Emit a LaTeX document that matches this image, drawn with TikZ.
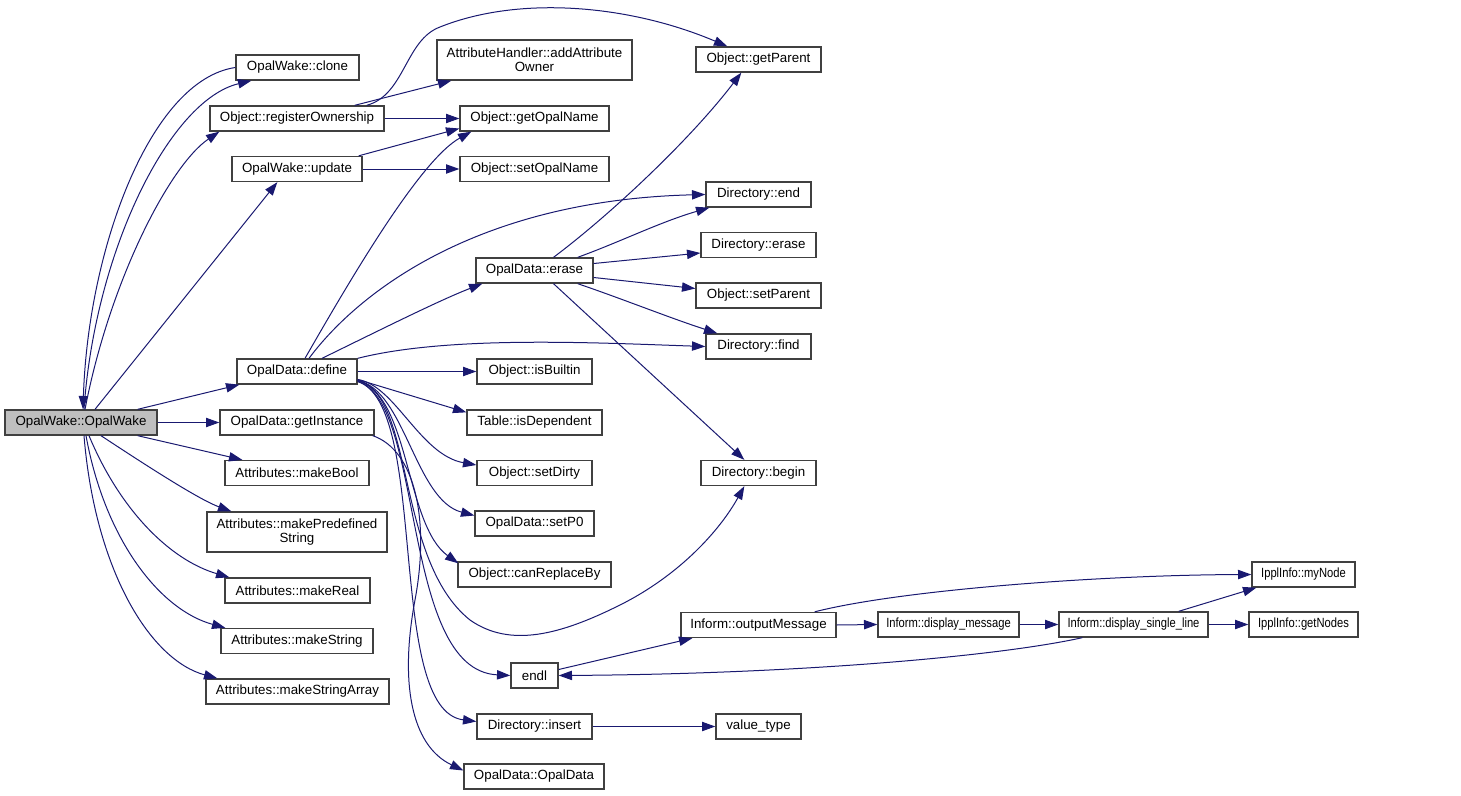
\documentclass[tikz,border=0pt]{standalone}
\usepackage{fontspec}
\setmainfont{Liberation Sans}
\usetikzlibrary{arrows.meta,calc}

\definecolor{edgeblue}{HTML}{191970}
\definecolor{boxgray}{HTML}{BFBFBF}

\tikzset{
  fn/.style={draw=black!75, fill=white, line width=1pt, inner sep=0pt,
    minimum height=25*0.75pt, font=\fontsize{10}{10.5}\selectfont, align=center},
  fntwo/.style={fn, minimum height=40*0.75pt},
  w/.style={minimum width=#1*0.75pt},
  call/.style={draw=edgeblue, line width=0.75pt,
    -{Triangle[length=10pt,width=7pt]}},
}
\newcommand{\narrow}[1]{\scalebox{0.84}[1]{#1}}

\begin{document}
\begin{tikzpicture}[x=0.75pt,y=-0.75pt]
   \useasboundingbox (0,0) rectangle (1461,796);
   \def\Xa{81}
   \def\Xb{297}
   \def\Xc{534.5}
   \def\Xd{758.5}

   % root
   \node[fn, w=152, fill=boxgray] (ow) at (\Xa,422.5) {OpalWake::OpalWake};
   % first level
   \node[fn, w=123] (clone) at (297.5,67.5) {OpalWake::clone};
   \node[fn, w=174] (ro) at (\Xb,118.5) {Object::registerOwnership};
   \node[fn, w=130] (up) at (\Xb,169) {OpalWake::update};
   \node[fn, w=120] (de) at (\Xb,371.5) {OpalData::define};
   \node[fn, w=154] (gi) at (\Xb,422.5) {OpalData::getInstance};
   \node[fn, w=144] (mb) at (\Xb,473) {Attributes::makeBool};
   \node[fntwo, w=180] (mps) at (\Xb,532) {Attributes::makePredefined\\String};
   \node[fn, w=145] (mr) at (297.5,590.5) {Attributes::makeReal};
   \node[fn, w=152] (ms) at (\Xb,641) {Attributes::makeString};
   \node[fn, w=183] (msa) at (297.5,691.5) {Attributes::makeStringArray};
   % second level
   \node[fntwo, w=195] (aao) at (\Xc,60) {AttributeHandler::addAttribute\\Owner};
   \node[fn, w=149] (gon) at (\Xc,118.5) {Object::getOpalName};
   \node[fn, w=149] (son) at (\Xc,169) {Object::setOpalName};
   \node[fn, w=117] (er) at (\Xc,270.5) {OpalData::erase};
   \node[fn, w=115] (ib) at (\Xc,371.5) {Object::isBuiltin};
   \node[fn, w=135] (tid) at (\Xc,422.5) {Table::isDependent};
   \node[fn, w=115] (sd) at (\Xc,473) {Object::setDirty};
   \node[fn, w=119] (sp0) at (\Xc,523.5) {OpalData::setP0};
   \node[fn, w=153] (crb) at (\Xc,574.5) {Object::canReplaceBy};
   \node[fn, w=47] (endl) at (\Xc,675.5) {endl};
   \node[fn, w=115] (ins) at (\Xc,726.5) {Directory::insert};
   \node[fn, w=140] (odc) at (534,776.5) {OpalData::OpalData};
   % third level
   \node[fn, w=125] (gp) at (\Xd,59.5) {Object::getParent};
   \node[fn, w=105] (dend) at (\Xd,194.5) {Directory::end};
   \node[fn, w=115] (derase) at (\Xd,245) {Directory::erase};
   \node[fn, w=125] (sp) at (\Xd,295.5) {Object::setParent};
   \node[fn, w=105] (dfind) at (\Xd,346.5) {Directory::find};
   \node[fn, w=115] (dbegin) at (\Xd,473) {Directory::begin};
   \node[fn, w=155] (om) at (\Xd,625) {Inform::outputMessage};
   \node[fn, w=85] (vt) at (\Xd,726.5) {value\_type};
   % right part
   \node[fn, w=141] (dm) at (948.5,624.5) {\narrow{Inform::display\_message}};
   \node[fn, w=149] (dsl) at (1133.5,624.5) {\narrow{Inform::display\_single\_line}};
   \node[fn, w=103] (mn) at (1303.5,574.5) {\narrow{IpplInfo::myNode}};
   \node[fn, w=109] (gn) at (1303.5,624.5) {\narrow{IpplInfo::getNodes}};

   % calls of OpalWake::OpalWake
   \draw[call] ($(ow.north)+(3,0)$) .. controls (95,250) and (170,100) .. ($(clone.south west)+(16,0)$);
   \draw[call] (clone.west) .. controls (150,80) and (88,250) .. ($(ow.north)+(2,0)$);
   \draw[call] ($(ow.north)+(4,0)$) .. controls (110,280) and (170,165) .. ($(ro.south west)+(10,0)$);
   \draw[call] ($(ow.north)+(14,0)$) -- ($(up.south west)+(46,0)$);
   \draw[call] ($(ow.north east)+(-20,0)$) -- ($(de.south west)+(3,0)$);
   \draw[call] (ow.east) -- (gi.west);
   \draw[call] ($(ow.south east)+(-20,0)$) -- ($(mb.north west)+(18,0)$);
   \draw[call] ($(ow.south)+(20,0)$) .. controls (150,468) and (200,500) .. ($(mps.north west)+(25,0)$);
   \draw[call] ($(ow.south)+(8,0)$) .. controls (120,510) and (170,560) .. ($(mr.north west)+(5,0)$);
   \draw[call] ($(ow.south)+(5,0)$) .. controls (105,540) and (160,610) .. ($(ms.north west)+(5,0)$);
   \draw[call] ($(ow.south)+(3,0)$) .. controls (95,570) and (150,660) .. ($(msa.north west)+(12,0)$);
   % calls of Object::registerOwnership and OpalWake::update
   \draw[call] ($(ro.north east)+(-30,0)$) -- ($(aao.south west)+(15,0)$);
   \draw[call] (ro.east) -- (gon.west);
   \draw[call] ($(ro.north east)+(-18,0)$) .. controls (405,95) and (405,40) .. (440,27)
      .. controls (520,-5) and (630,5) .. ($(gp.north west)+(32,0)$);
   \draw[call] ($(up.north east)+(-4,0)$) -- ($(gon.west)+(0,10)$);
   \draw[call] (up.east) -- (son.west);
   % calls of OpalData::define
   \draw[call] ($(de.north)+(8,0)$) .. controls (350,280) and (420,160) .. ($(gon.south west)+(12,0)$);
   \draw[call] ($(de.north)+(12,0)$) .. controls (360,290) and (480,200) .. (dend.west);
   \draw[call] ($(de.north)+(25,0)$) .. controls (380,330) and (440,300) .. ($(er.south west)+(7,0)$);
   \draw[call] (de.north east) .. controls (450,335) and (600,343) .. (dfind.west);
   \draw[call] (de.east) -- (ib.west);
   \draw[call] ($(de.east)+(0,8)$) -- ($(tid.north west)+(0,3)$);
   \draw[call] ($(de.east)+(0,8)$) .. controls (395,385) and (420,455) .. ($(sd.west)+(0,-8)$);
   \draw[call] ($(de.east)+(0,9)$) .. controls (405,390) and (415,500) .. ($(sp0.west)+(0,-8)$);
   \draw[call] ($(de.east)+(0,9)$) .. controls (410,395) and (405,525) .. ($(crb.north west)+(1,2)$);
   \draw[call] ($(de.east)+(0,9)$) .. controls (415,395) and (395,560) .. (470,620)
      .. controls (510,648) and (560,635) .. (620,605)
      .. controls (680,575) and (720,530) .. ($(dbegin.south west)+(44,0)$);
   \draw[call] ($(de.east)+(0,10)$) .. controls (425,400) and (400,670) .. (endl.west);
   \draw[call] ($(de.east)+(0,10)$) .. controls (430,405) and (385,710) .. ($(ins.west)+(0,-5)$);
   % calls of OpalData::getInstance
   \draw[call] ($(gi.south east)+(-2,0)$) .. controls (415,450) and (430,520) .. (415,600)
      .. controls (400,680) and (410,745) .. ($(odc.west)+(0,-6)$);
   % calls of OpalData::erase
   \draw[call] ($(er.north)+(19,0)$) .. controls (610,215) and (690,140) .. ($(gp.south west)+(46,0)$);
   \draw[call] ($(er.north east)+(-16,0)$) .. controls (620,242) and (660,222) .. ($(dend.south west)+(4,0)$);
   \draw[call] ($(er.east)+(0,-7)$) -- ($(derase.west)+(0,8)$);
   \draw[call] ($(er.east)+(0,7)$) -- ($(sp.west)+(0,-7)$);
   \draw[call] ($(er.south east)+(-16,0)$) .. controls (620,298) and (670,318) .. ($(dfind.north west)+(12,0)$);
   \draw[call] ($(er.south)+(19,0)$) -- ($(dbegin.north west)+(44,0)$);
   % calls of Inform and Directory::insert
   \draw[call] ($(om.north east)+(-22,0)$) .. controls (900,590) and (1100,575) .. (mn.west);
   \draw[call] (om.east) -- (dm.west);
   \draw[call] ($(endl.east)+(0,-6)$) -- ($(om.south west)+(12,0)$);
   \draw[call] (dm.east) -- (dsl.west);
   \draw[call] ($(dsl.north east)+(-30,0)$) -- ($(mn.south west)+(5,0)$);
   \draw[call] (dsl.east) -- (gn.west);
   \draw[call] ($(dsl.south west)+(24,0)$) .. controls (1000,656) and (800,674) .. (endl.east);
   \draw[call] (ins.east) -- (vt.west);
\end{tikzpicture}
\end{document}
